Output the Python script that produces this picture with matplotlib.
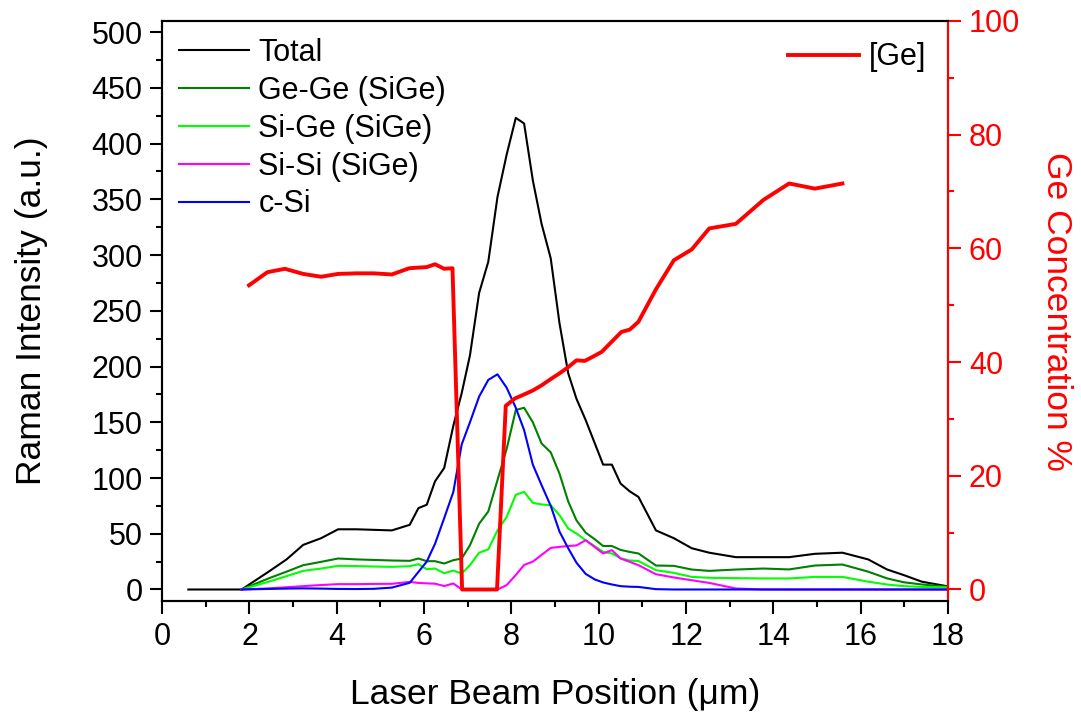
import matplotlib
matplotlib.use("Agg")
import matplotlib.pyplot as plt
import numpy as np
from matplotlib.ticker import MultipleLocator

plt.rcParams['font.family'] = ['Liberation Sans', 'DejaVu Sans']

nan = np.nan

# Raman scan positions (um)
x_pos = [0.6, 1.0, 1.4, 1.82, 2.44, 2.85, 3.23, 3.64, 4.03, 4.45, 4.85, 5.26, 5.67,
         5.87, 6.06, 6.25, 6.46, 6.67, 6.86, 7.05, 7.26, 7.47, 7.68, 7.89, 8.10,
         8.29, 8.49, 8.69, 8.90, 9.10, 9.30, 9.49, 9.70, 9.91, 10.10, 10.30, 10.50,
         10.71, 10.91, 11.31, 11.72, 12.13, 12.53, 13.14, 13.77, 14.36, 14.95, 15.58,
         16.17, 16.60, 16.98, 17.40, 17.97]

total = [0, 0, 0, 0, 16, 27, 40, 46, 54, 54, 53.5, 53, 58,
         73, 76, 97, 109, 147, 176, 210, 266, 294, 352, 390, 423,
         418, 367, 328, 297, 239, 194, 171, 152, 131, 112, 112, 95,
         88, 83, 53, 46, 37, 33, 29, 29, 29, 32, 33,
         27, 18, 13, 7, 3]

ge_ge = [nan, nan, nan, 0, 10, 16, 21.8, 24.8, 27.8, 27, 26.5, 26, 25.7,
         27.8, 25.4, 25.4, 23.3, 26.3, 27.8, 39.7, 59, 70, 98, 126, 161,
         163, 150, 131, 123, 104, 79, 62, 51, 45, 39, 39, 35.5,
         33.7, 32.3, 21.5, 21.2, 17.9, 16.7, 17.9, 18.8, 18, 21.5, 22.4,
         16, 10, 6.5, 4.5, 2.5]

si_ge = [nan, nan, nan, 0, 7, 12, 16.7, 18.8, 21.2, 21, 20.6, 20.3, 20.9,
         22.7, 18.2, 18.8, 14.6, 17.0, 14.3, 21.8, 33, 36, 53, 65, 85,
         87.6, 77.7, 76.3, 75.6, 66.7, 54.7, 50.2, 44.2, 38.8, 33.7, 32.3, 28,
         26, 25.5, 17.3, 14.9, 11.3, 10.5, 10.2, 9.9, 9.9, 11.3, 11.3,
         7, 4.5, 3, 2.3, 2]

si_si = [nan, nan, nan, 0, 1, 2, 3, 4, 4.8, 4.8, 5, 5.1, 6.8,
         5.9, 5.5, 5.2, 3.1, 5.4, 0, 0, 0, 0, 0, 3.9, 13,
         22, 25, 31, 37.3, 38.2, 39, 39.5, 44.2, 38, 32.3, 35.3, 27.8,
         24.8, 21.8, 13.7, 10.8, 8.3, 5.9, 0.9, 0, 0, 0, 0,
         0, 0, 0, 0, 0]

c_si = [nan, nan, nan, 0, 0.5, 0.8, 1, 0.8, 0.5, 0.4, 0.6, 1.7, 6,
        15.8, 25, 41, 64, 87.6, 130, 150, 173, 188, 193, 181, 163,
        143, 112, 93.6, 75, 52, 37, 24, 14, 9, 6.3, 4.5, 3,
        2.5, 2.3, 0.3, 0, 0, 0, 0, 0, 0, 0, 0,
        0, 0, 0, 0, 0]

# Ge concentration profile
x_ge = [1.99, 2.41, 2.81, 3.23, 3.64, 4.03, 4.45, 4.85, 5.26, 5.66, 6.06, 6.25, 6.46, 6.65,
        6.87, 7.07, 7.27, 7.47, 7.67, 7.87, 8.08, 8.29, 8.49, 8.69, 8.90, 9.10, 9.30,
        9.49, 9.68, 9.88, 10.07, 10.30, 10.52, 10.71, 10.91, 11.31, 11.72, 12.13, 12.53,
        13.14, 13.77, 14.36, 14.95, 15.58]
ge_conc = [53.5, 55.8, 56.4, 55.5, 55.0, 55.5, 55.6, 55.6, 55.4, 56.5, 56.7, 57.2, 56.4, 56.5,
           0, 0, 0, 0, 0, 32.3, 33.6, 34.3, 35.0, 35.9, 37.0, 38.0, 39.1,
           40.3, 40.2, 41.0, 41.8, 43.6, 45.3, 45.7, 47.1, 52.8, 57.9, 59.8, 63.5,
           64.3, 68.5, 71.4, 70.5, 71.4]

series = [
    ("Total", total, "black"),
    ("Ge-Ge (SiGe)", ge_ge, "#008000"),
    ("Si-Ge (SiGe)", si_ge, "#00ff00"),
    ("Si-Si (SiGe)", si_si, "#ff00ff"),
    ("c-Si", c_si, "#0000ff"),
]

fig = plt.figure(figsize=(10.81, 7.20), dpi=100)
ax = fig.add_axes([0.150, 0.165, 0.727, 0.806])

for name, vals, col in series:
    ax.plot(x_pos, vals, color=col, lw=1.5, label=name)

ax.set_xlim(0, 18)
ax.set_ylim(-10.5, 510)
ax.xaxis.set_major_locator(MultipleLocator(2))
ax.xaxis.set_minor_locator(MultipleLocator(1))
ax.yaxis.set_major_locator(MultipleLocator(50))
ax.yaxis.set_minor_locator(MultipleLocator(25))
ax.tick_params(which='major', direction='out', length=9, width=1.5, labelsize=22, pad=5)
ax.tick_params(axis='x', which='major', pad=6)
ax.tick_params(which='minor', direction='out', length=4.5, width=1.5)
ax.tick_params(top=False, right=False, which='both')
for sp in ax.spines.values():
    sp.set_linewidth(1.5)

ax.set_xlabel("Laser Beam Position (\u03bcm)", fontsize=25.5, labelpad=19)
ax.set_ylabel("Raman Intensity (a.u.)", fontsize=25.5, labelpad=31)

ax2 = ax.twinx()
ax2.plot(x_ge, ge_conc, color="red", lw=2.8, label="[Ge]")
ax2.set_ylim(-2.06, 100)
ax2.yaxis.set_major_locator(MultipleLocator(20))
ax2.yaxis.set_minor_locator(MultipleLocator(10))
ax2.tick_params(which='major', direction='out', length=9, width=1.5, labelsize=22,
                pad=6, colors='red')
ax2.tick_params(which='minor', direction='out', length=4.5, width=1.5, colors='red')
ax2.spines['right'].set_color('red')
for sp in ax2.spines.values():
    sp.set_linewidth(1.5)
ax2.set_ylabel("Ge Concentration %", fontsize=25.5, color='red', rotation=270, labelpad=38)

leg1 = ax.legend(loc='upper left', frameon=False, fontsize=22, handlelength=2.3,
                 handletextpad=0.3, labelspacing=0.26,
                 bbox_to_anchor=(0.0, 1.0), borderaxespad=0.0, borderpad=0.55)
leg2 = ax2.legend(loc='upper right', frameon=False, fontsize=22, handlelength=2.3,
                  handletextpad=0.35, borderaxespad=0.3)

fig.savefig("out.png", dpi=100)
